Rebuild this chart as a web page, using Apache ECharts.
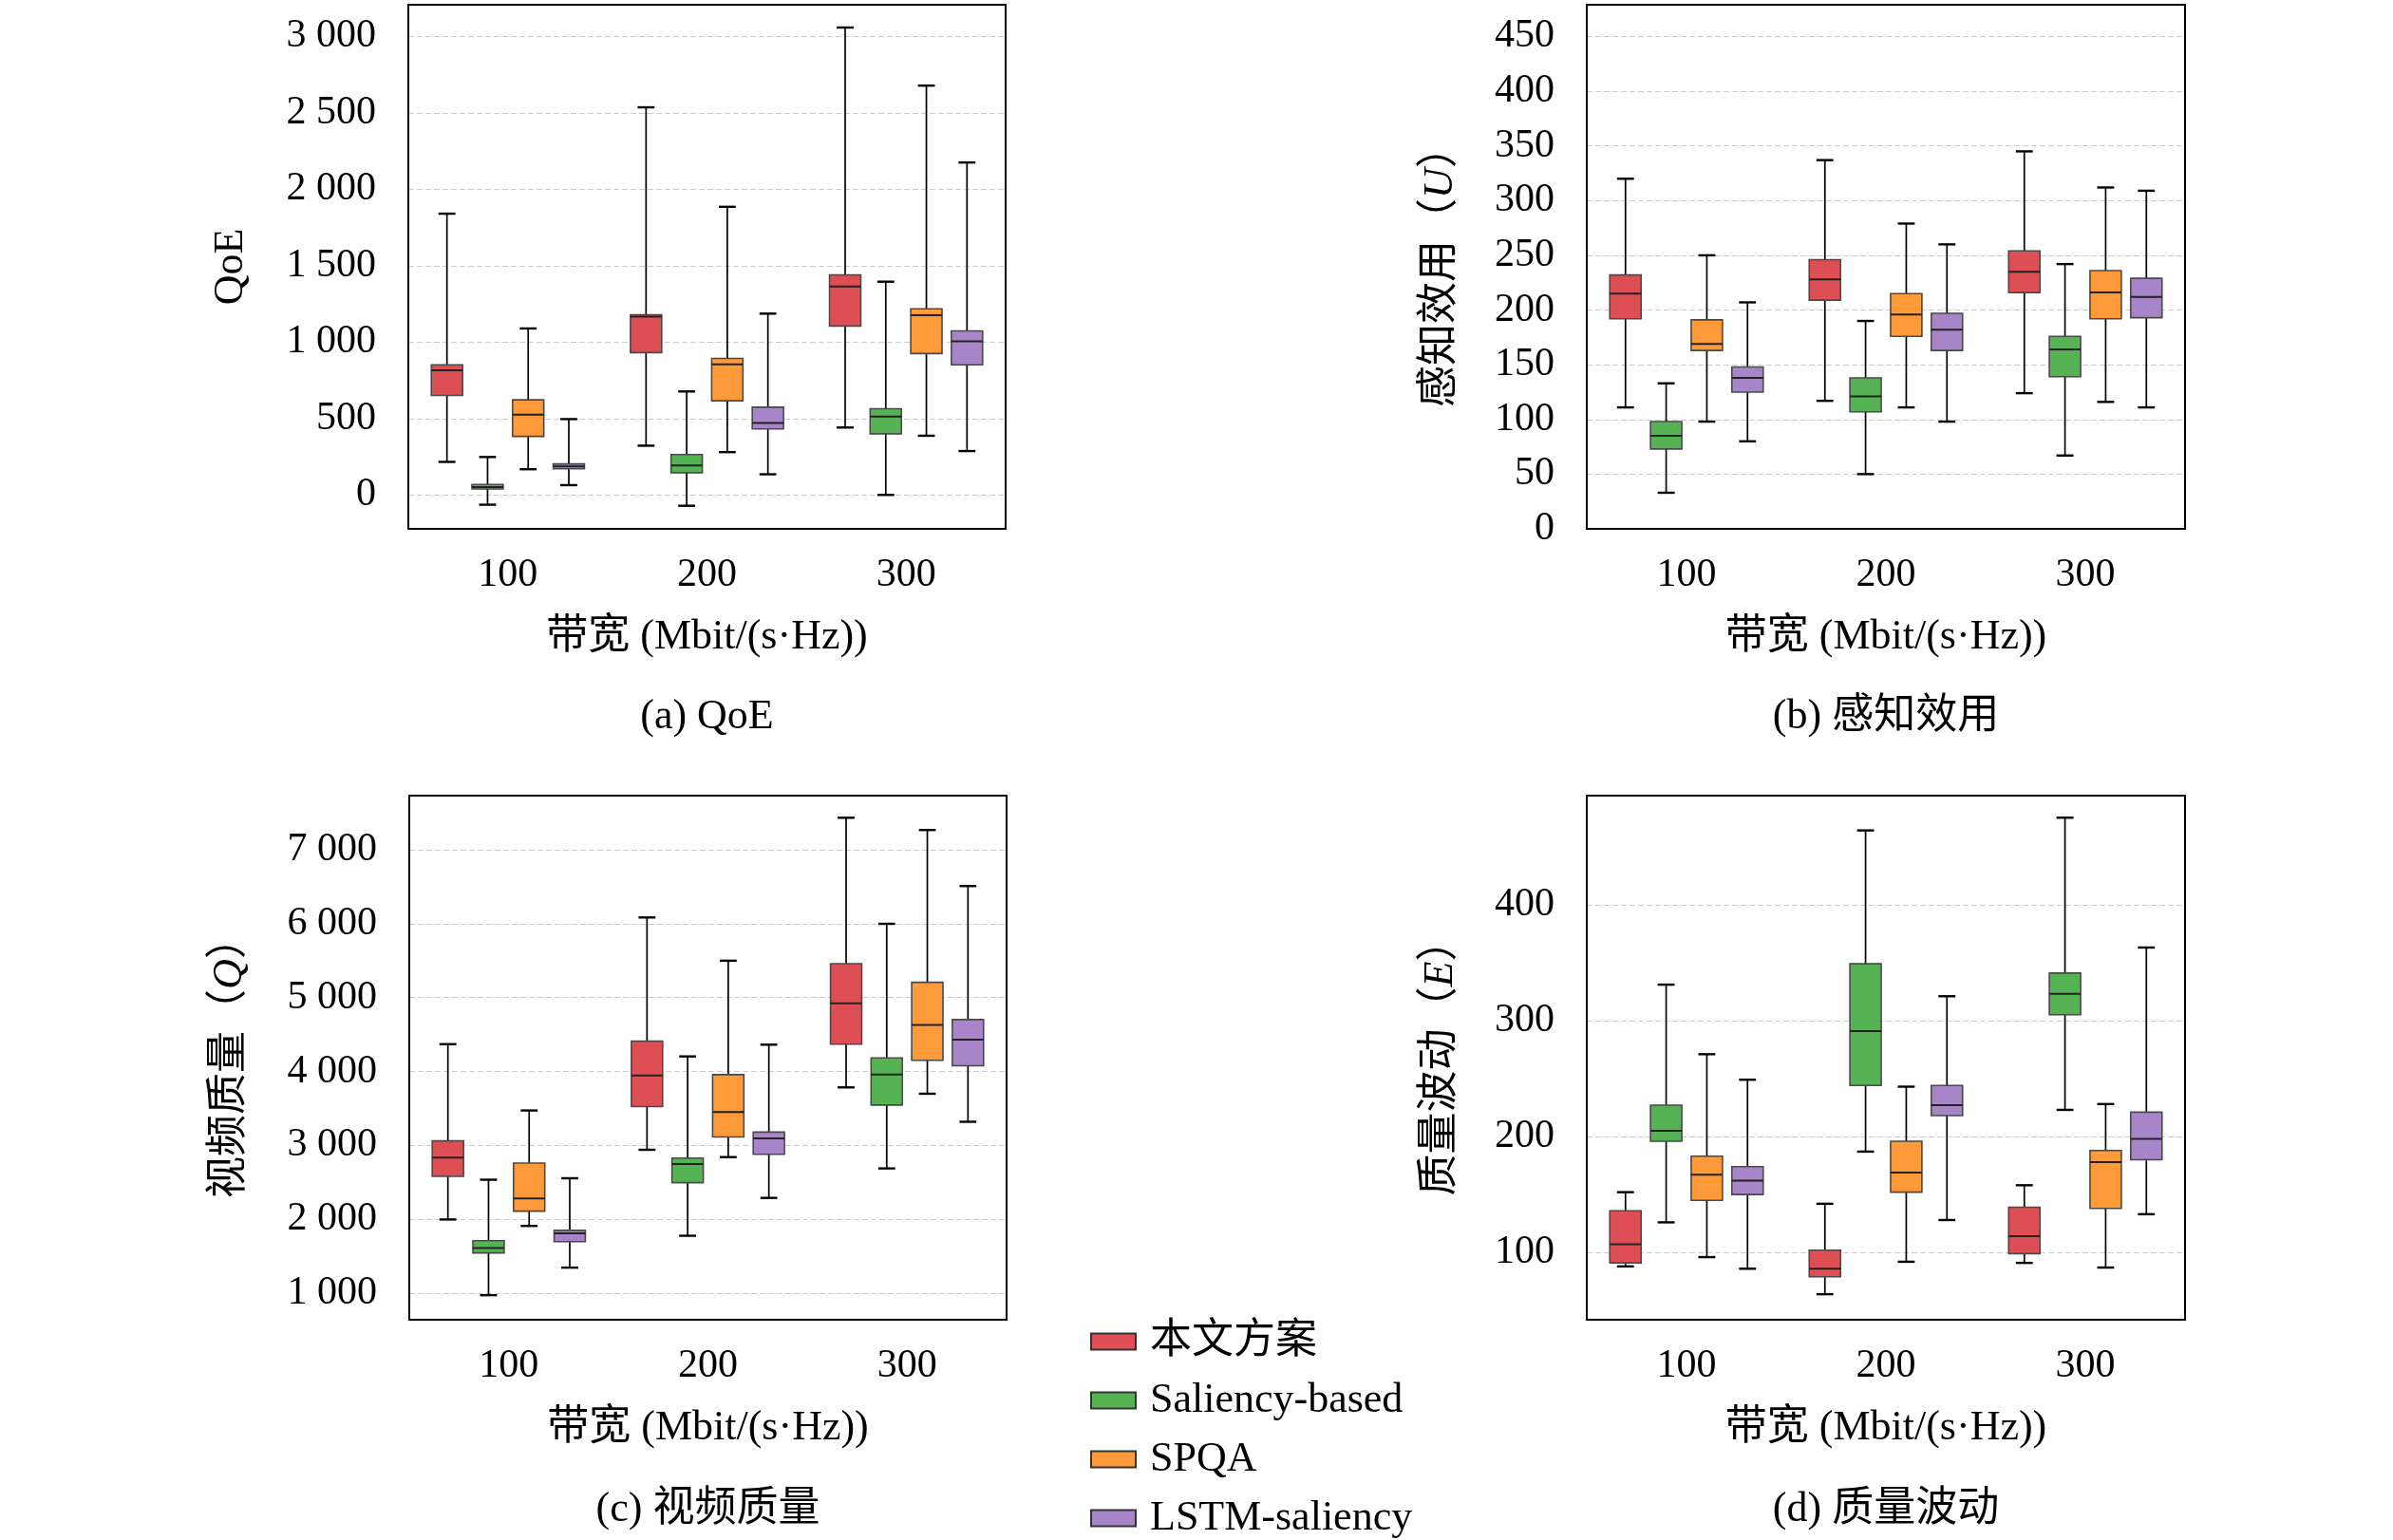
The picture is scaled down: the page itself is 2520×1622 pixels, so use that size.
<!DOCTYPE html>
<html>
<head>
<meta charset="utf-8">
<title>带宽对比箱线图</title>
<script src="https://cdn.jsdelivr.net/npm/echarts@6/dist/echarts.min.js"></script>
<style>
  html, body { margin: 0; padding: 0; background: #fff; }
  #chart { width: 2520px; height: 1622px; }
</style>
</head>
<body>
<div id="chart"></div>
<script>
// 带宽 (Mbit/(s·Hz))
const categories = ['100', '200', '300']
const methods = ['本文方案', 'Saliency-based', 'SPQA', 'LSTM-saliency']
const colors = ['#de4f55', '#55b354', '#ff9a3b', '#a885c9']

// every row: [lower whisker, Q1, median, Q3, upper whisker], one row per bandwidth
// (a) QoE
const qoeOurs = [[216, 651, 815, 851, 1840], [322, 931, 1167, 1179, 2536], [441, 1105, 1363, 1440, 3058]]
const qoeSaliency = [[-64, 39, 52, 68, 248], [-71, 145, 193, 264, 677], [0, 400, 512, 564, 1395]]
const qoeSpqa = [[168, 383, 525, 622, 1089], [280, 616, 854, 893, 1885], [387, 925, 1176, 1218, 2678]]
const qoeLstm = [[64, 171, 187, 203, 496], [135, 432, 471, 574, 1186], [287, 851, 1005, 1073, 2175]]

// (b) 感知效用 U
const utilOurs = [[111, 192, 215, 232, 320], [117, 209, 228, 246, 337], [124, 216, 235, 254, 345]]
const utilSaliency = [[33, 73, 85, 98, 133], [50, 107, 121, 138, 190], [67, 139, 164, 176, 242]]
const utilSpqa = [[98, 163, 169, 191, 250], [111, 176, 196, 215, 279], [116, 192, 216, 236, 312]]
const utilLstm = [[80, 125, 138, 148, 207], [98, 163, 182, 197, 260], [111, 193, 212, 229, 309]]

// (c) 视频质量 Q
const qualOurs = [[1997, 2581, 2834, 3060, 4369], [2940, 3525, 3944, 4409, 6083], [3784, 4369, 4920, 5458, 7432]]
const qualSaliency = [[973, 1545, 1611, 1711, 2535], [1777, 2495, 2748, 2827, 4203], [2688, 3545, 3957, 4183, 5997]]
const qualSpqa = [[1910, 2110, 2282, 2761, 3472], [2841, 3113, 3452, 3957, 5498], [3698, 4150, 4628, 5206, 7266]]
const qualLstm = [[1346, 1698, 1811, 1850, 2555], [2289, 2880, 3093, 3179, 4362], [3319, 4076, 4429, 4701, 6508]]

// (d) 质量波动 E
const flucOurs = [[88, 91, 107, 136, 152], [64, 79, 86, 102, 142], [91, 99, 114, 139, 158]]
const flucSaliency = [[126, 196, 205, 227, 331], [187, 244, 291, 349, 464], [223, 305, 323, 341, 475]]
const flucSpqa = [[96, 145, 167, 183, 271], [92, 152, 169, 196, 243], [87, 138, 178, 188, 228]]
const flucLstm = [[86, 150, 162, 174, 249], [128, 218, 227, 244, 321], [133, 180, 198, 221, 363]]

const serif = '"Liberation Serif", "Noto Sans CJK SC", serif'

const panels = [
  { grid: { left: 430, top: 5, width: 629, height: 552 }, min: -222, max: 3207, split: 7, name: 'QoE', gap: 165, caption: '(a) QoE', data: [qoeOurs, qoeSaliency, qoeSpqa, qoeLstm] },
  { grid: { left: 1671, top: 5, width: 630, height: 552 }, min: 0, max: 479, split: 10, name: '感知效用（{i|U}）', gap: 132, caption: '(b) 感知效用', data: [utilOurs, utilSaliency, utilSpqa, utilLstm] },
  { grid: { left: 431, top: 838, width: 629, height: 552 }, min: 641, max: 7731, split: 7, name: '视频质量（{i|Q}）', gap: 167, caption: '(c) 视频质量', data: [qualOurs, qualSaliency, qualSpqa, qualLstm] },
  { grid: { left: 1671, top: 838, width: 630, height: 552 }, min: 42, max: 494, split: 5, name: '质量波动（{i|E}）', gap: 132, caption: '(d) 质量波动', data: [flucOurs, flucSaliency, flucSpqa, flucLstm] }
]

function thousands (v) {
  return v >= 1000 ? Math.floor(v / 1000) + ' ' + String(v % 1000).padStart(3, '0') : String(v)
}

// draws one box for series k of the four in a group
function boxRenderer (k) {
  return function (params, api) {
    let cat = api.value(0)
    let band = api.size([1, 0])[0]
    let xc = api.coord([cat, 0])[0] + (k - 1.5) * band * 0.204
    let w = band * 0.157
    let cap = band * 0.085
    let y = [1, 2, 3, 4, 5].map(i => api.coord([cat, api.value(i)])[1])
    let line = (x1, y1, x2, y2, lw, c) => ({
      type: 'line',
      shape: { x1, y1, x2, y2 },
      style: { stroke: c || '#000', lineWidth: lw }
    })
    return {
      type: 'group',
      children: [
        line(xc, y[0], xc, y[4], 1.7),
        line(xc - cap / 2, y[0], xc + cap / 2, y[0], 2.4),
        line(xc - cap / 2, y[4], xc + cap / 2, y[4], 2.4),
        {
          type: 'rect',
          shape: { x: xc - w / 2, y: y[3], width: w, height: y[1] - y[3] },
          style: { fill: colors[k], stroke: '#4a4a4a', lineWidth: 1.6 }
        },
        line(xc - w / 2, y[2], xc + w / 2, y[2], 2, '#222')
      ]
    }
  }
}

let grids = []
let xAxes = []
let yAxes = []
let series = []
let graphics = []

panels.forEach((p, pi) => {
  // frame drawn above the dashed split lines
  grids.push(Object.assign({ show: true, z: 5, borderColor: '#000', borderWidth: 2, backgroundColor: 'transparent' }, p.grid))
  xAxes.push({
    type: 'category',
    gridIndex: pi,
    data: categories,
    boundaryGap: true,
    name: '带宽 (Mbit/(s·Hz))',
    nameLocation: 'middle',
    nameGap: 92,
    nameTextStyle: { fontFamily: serif, fontSize: 44, color: '#000' },
    axisLine: { onZero: false, lineStyle: { color: '#000', width: 2 } },
    axisTick: { inside: true, alignWithLabel: true, length: 11, lineStyle: { color: '#000', width: 2 } },
    axisLabel: { margin: 28, fontFamily: serif, fontSize: 42, color: '#000' },
    splitLine: { show: false }
  })
  yAxes.push({
    type: 'value',
    gridIndex: pi,
    min: p.min,
    max: p.max,
    splitNumber: p.split,
    name: p.name,
    nameLocation: 'middle',
    nameRotate: 90,
    nameGap: p.gap,
    nameTextStyle: {
      fontFamily: serif,
      fontSize: 44,
      color: '#000',
      rich: { i: { fontFamily: serif, fontSize: 44, fontStyle: 'italic', color: '#000' } }
    },
    axisLine: { show: true, onZero: false, lineStyle: { color: '#000', width: 2 } },
    axisTick: { inside: true, length: 11, lineStyle: { color: '#000', width: 2 } },
    axisLabel: { margin: 34, fontFamily: serif, fontSize: 42, color: '#000', showMinLabel: p.min === 0, showMaxLabel: false, formatter: thousands },
    splitLine: { show: true, lineStyle: { color: '#cccccc', width: 1, type: [6, 3] } }
  })
  p.data.forEach((rows, k) => {
    series.push({
      name: methods[k],
      type: 'custom',
      xAxisIndex: pi,
      yAxisIndex: pi,
      renderItem: boxRenderer(k),
      itemStyle: { color: colors[k], borderColor: '#333', borderWidth: 1.5 },
      encode: { x: 0, y: [1, 2, 3, 4, 5] },
      data: rows.map((r, i) => [i].concat(r))
    })
  })
  graphics.push({
    type: 'text',
    x: p.grid.left + p.grid.width / 2,
    y: pi < 2 ? 755 : 1590,
    style: {
      text: p.caption,
      fontFamily: serif,
      fontSize: 44,
      fill: '#000',
      align: 'center',
      verticalAlign: 'middle',
      textAlign: 'center',
      textVerticalAlign: 'middle'
    }
  })
})

let chart = echarts.init(document.getElementById('chart'))
chart.setOption({
  animation: false,
  backgroundColor: '#fff',
  grid: grids,
  xAxis: xAxes,
  yAxis: yAxes,
  legend: {
    orient: 'vertical',
    left: 1148,
    top: 1391,
    height: 300,
    padding: 0,
    icon: 'rect',
    itemWidth: 47,
    itemHeight: 17,
    itemGap: 18,
    data: methods,
    textStyle: { fontFamily: serif, fontSize: 44, color: '#000', padding: [0, 0, 0, 10] }
  },
  graphic: graphics,
  series
})
</script>
</body>
</html>
